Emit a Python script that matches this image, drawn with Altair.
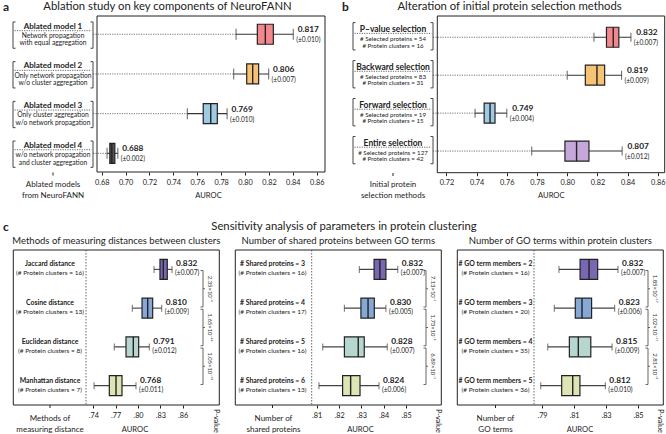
import altair as alt
import pandas as pd

FONT = "Lato"
W, H = 666, 434
INK = "#222222"

# ---------------- panel a : ablation study ----------------
a_names = ["Ablated model 1", "Ablated model 2", "Ablated model 3", "Ablated model 4"]
a_desc1 = ["Network propagation", "Only network propagation", "Only cluster aggregation", "w/o network propagation"]
a_desc2 = ["with equal aggregation", "w/o cluster aggregation", "w/o network propagation", "and cluster aggregation"]
a_low = [0.7925, 0.7905, 0.7517, 0.6845]
a_q1 = [0.8103, 0.8014, 0.7650, 0.6868]
a_med = [0.8170, 0.8064, 0.7713, 0.6885]
a_q3 = [0.8237, 0.8114, 0.7768, 0.6910]
a_high = [0.8404, 0.8198, 0.7850, 0.6935]
a_mean = ["0.817", "0.806", "0.769", "0.688"]
a_sd = ["(±0.010)", "(±0.007)", "(±0.010)", "(±0.002)"]
a_ticks = [0.68, 0.70, 0.72, 0.74, 0.76, 0.78, 0.80, 0.82, 0.84, 0.86]

# ---------------- panel b : initial protein selection ----------------
b_names = ["P–value selection", "Backward selection", "Forward selection", "Entire selection"]
b_desc1 = ["# Selected proteins = 54", "# Selected proteins = 83", "# Selected proteins = 19", "# Selected proteins = 127"]
b_desc2 = ["# Protein clusters = 16", "# Protein clusters = 31", "# Protein clusters = 15", "# Protein clusters = 42"]
b_low = [0.8177, 0.8000, 0.7390, 0.7765]
b_q1 = [0.8260, 0.8120, 0.7450, 0.7985]
b_med = [0.8305, 0.8197, 0.7489, 0.8062]
b_q3 = [0.8342, 0.8248, 0.7522, 0.8144]
b_high = [0.8422, 0.8360, 0.7600, 0.8364]
b_mean = ["0.832", "0.819", "0.749", "0.807"]
b_sd = ["(±0.007)", "(±0.009)", "(±0.004)", "(±0.012)"]
b_ticks = [0.72, 0.74, 0.76, 0.78, 0.80, 0.82, 0.84, 0.86]

# ---------------- panel c1 : distance measures ----------------
c1_names = ["Jaccard distance", "Cosine distance", "Euclidean distance", "Manhattan distance"]
c1_desc = ["(# Protein clusters = 16)", "(# Protein clusters = 13)", "(# Protein clusters = 8)", "(# Protein clusters = 7)"]
c1_low = [0.8215, 0.7924, 0.7682, 0.7410]
c1_q1 = [0.8295, 0.8054, 0.7839, 0.7615]
c1_med = [0.8340, 0.8130, 0.7937, 0.7705]
c1_q3 = [0.8393, 0.8197, 0.8009, 0.7785]
c1_high = [0.8457, 0.8318, 0.8152, 0.7973]
c1_mean = ["0.832", "0.810", "0.791", "0.768"]
c1_sd = ["(±0.007)", "(±0.009)", "(±0.012)", "(±0.011)"]
c1_p = ["2.35×10⁻⁴", "1.65×10⁻²⁶", "1.05×10⁻¹⁵"]
c1_ticks = [0.74, 0.77, 0.80, 0.83, 0.86]

# ---------------- panel c2 : shared proteins ----------------
c2_names = ["# Shared proteins = 3", "# Shared proteins = 4", "# Shared proteins = 5", "# Shared proteins = 6"]
c2_desc = ["(# Protein clusters = 16)", "(# Protein clusters = 17)", "(# Protein clusters = 16)", "(# Protein clusters = 13)"]
c2_low = [0.8291, 0.8224, 0.8127, 0.8110]
c2_q1 = [0.8357, 0.8298, 0.8224, 0.8216]
c2_med = [0.8383, 0.8330, 0.8286, 0.8252]
c2_q3 = [0.8410, 0.8358, 0.8313, 0.8294]
c2_high = [0.8463, 0.8410, 0.8416, 0.8379]
c2_mean = ["0.832", "0.830", "0.828", "0.824"]
c2_sd = ["(±0.007)", "(±0.005)", "(±0.007)", "(±0.006)"]
c2_p = ["7.13×10⁻¹", "1.73×10⁻²", "6.89×10⁻¹"]
c2_ticks = [0.81, 0.82, 0.83, 0.84, 0.85]

# ---------------- panel c3 : GO terms per cluster ----------------
c3_names = ["# GO term members = 2", "# GO term members = 3", "# GO term members = 4", "# GO term members = 5"]
c3_desc = ["(# Protein clusters = 16)", "(# Protein clusters = 20)", "(# Protein clusters = 35)", "(# Protein clusters = 36)"]
c3_low = [0.8006, 0.7977, 0.7936, 0.7892]
c3_q1 = [0.8138, 0.8108, 0.8071, 0.8023]
c3_med = [0.8194, 0.8150, 0.8127, 0.8092]
c3_q3 = [0.8248, 0.8210, 0.8205, 0.8137]
c3_high = [0.8375, 0.8354, 0.8338, 0.8296]
c3_mean = ["0.832", "0.823", "0.815", "0.812"]
c3_sd = ["(±0.007)", "(±0.006)", "(±0.009)", "(±0.010)"]
c3_p = ["1.85×10⁻¹⁷", "1.02×10⁻¹¹", "2.81×10⁻²"]
c3_ticks = [0.79, 0.81, 0.83, 0.85]

# ---------------- styles ----------------
a_colors = ["#F2888E", "#F8C275", "#9ECAE4", "#555555"]
b_colors = ["#F2888E", "#F8C275", "#9ECAE4", "#C6A7D9"]
c_colors = ["#7A67B2", "#86A8D6", "#B8D6D0", "#DFE4B5"]

# ---------------- layout geometry (pixels) ----------------
GA = dict(v0=0.68, p0=101.7, k=1194.4, fl=97.0, fr=325.0, ft=16.0, fb=172.0, y0=0.54, y1=4.47)
GB = dict(v0=0.72, p0=446.4, k=1510.0, fl=437.3, fr=664.7, ft=16.0, fb=172.7, y0=0.44, y1=4.57)
GC1 = dict(v0=0.74, p0=93.3, k=745.0, fl=13.3, fr=219.3, ft=250.0, fb=405.0, y0=0.5, y1=4.5)
GC2 = dict(v0=0.81, p0=316.7, k=2233.0, fl=235.3, fr=441.3, ft=250.0, fb=405.0, y0=0.5, y1=4.5)
GC3 = dict(v0=0.79, p0=542.0, k=1600.0, fl=457.3, fr=663.3, ft=250.0, fb=405.0, y0=0.5, y1=4.5)

ONE = pd.DataFrame({"k": [0]})


def inv(g, px):
    return g["v0"] + (px - g["p0"]) / g["k"]


def txt(s, x, y, size, weight="normal", align="center", angle=0, baseline="middle", style="normal"):
    return alt.Chart(ONE).mark_text(
        text=s, font=FONT, fontSize=size, fontWeight=weight, fontStyle=style,
        align=align, baseline=baseline, angle=angle, color=INK
    ).encode(x=alt.value(x), y=alt.value(y))


def prule(x1, x2, y1, y2, color=INK, width=1.0, dash=None):
    kw = dict(color=color, strokeWidth=width)
    if dash:
        kw["strokeDash"] = dash
    return alt.Chart(ONE).mark_rule(**kw).encode(
        x=alt.value(x1), x2=alt.value(x2), y=alt.value(y1), y2=alt.value(y2))


def build_df(names, d1, d2, low, q1, med, q3, high, mean, sd, colors):
    return pd.DataFrame(dict(row=[1, 2, 3, 4], name=names, d1=d1, d2=d2, low=low, q1=q1, med=med,
                             q3=q3, high=high, mean=mean, sd=sd, col=colors))


def panel(g, df, ticks, label_expr, boxh, cap, wcol, mean_cfg):
    d0, d1 = inv(g, g["fl"]), inv(g, g["fr"])
    xs = alt.Scale(domain=[d0, d1], range=[g["fl"], g["fr"]], nice=False, zero=False)
    ys = alt.Scale(domain=[g["y0"], g["y1"]], range=[g["ft"], g["fb"]], nice=False, zero=False)
    ppr = (g["fb"] - g["ft"]) / (g["y1"] - g["y0"])
    df = df.copy()
    df["yb0"] = df["row"] - boxh / 2 / ppr
    df["yb1"] = df["row"] + boxh / 2 / ppr

    def X(f):
        return alt.X(f, scale=xs, axis=None)

    def Y(f):
        return alt.Y(f, scale=ys, axis=None)

    frame_df = pd.DataFrame({"x0": [d0], "x1": [d1], "y0": [g["y0"]], "y1": [g["y1"]]})
    axis = alt.Axis(values=ticks, orient="bottom", offset=g["fb"] - H, domain=False, grid=False,
                    ticks=True, tickSize=3, tickColor=INK, tickWidth=1, labelFont=FONT,
                    labelFontSize=7.3, labelColor=INK, labelPadding=3, labelFlush=False,
                    labelOverlap=False, labelExpr=label_expr, title="")
    L = [
        alt.Chart(frame_df).mark_rect(fillOpacity=0, stroke=INK, strokeWidth=1).encode(
            x=alt.X("x0:Q", scale=xs, axis=axis), x2="x1:Q", y=Y("y0:Q"), y2="y1:Q"),
        alt.Chart(df).mark_rule(color=wcol, strokeWidth=1.1).encode(
            x=X("low:Q"), x2="high:Q", y=Y("row:Q")),
        alt.Chart(df).transform_fold(["low", "high"], as_=["k", "v"]).mark_tick(
            orient="vertical", size=cap, thickness=1.1, color=wcol).encode(x=X("v:Q"), y=Y("row:Q")),
        alt.Chart(df).mark_rect(stroke=INK, strokeWidth=1.2).encode(
            x=X("q1:Q"), x2="q3:Q", y=Y("yb0:Q"), y2="yb1:Q", fill=alt.Fill("col:N", scale=None)),
        alt.Chart(df).mark_rule(color=INK, strokeWidth=1.4).encode(
            x=X("med:Q"), y=Y("yb0:Q"), y2="yb1:Q"),
        alt.Chart(df).mark_text(font=FONT, fontWeight="bold", fontSize=8.3, color=INK,
                                align=mean_cfg["align"], dx=mean_cfg["dx1"], dy=mean_cfg["dy1"]).encode(
            x=X("high:Q"), y=Y("row:Q"), text="mean:N"),
        alt.Chart(df).mark_text(font=FONT, fontSize=6.6, color=INK,
                                align=mean_cfg["align"], dx=mean_cfg["dx2"], dy=mean_cfg["dy2"]).encode(
            x=X("high:Q"), y=Y("row:Q"), text="sd:N"),
    ]
    return L, X, Y, ppr, df


def ab_labels(g, df, X, Y, ppr, lx, bl, br, dys, tsize, dsize):
    d = df.copy()
    d["bt"] = d["row"] + dys["bt"] / ppr
    d["bb"] = d["row"] + dys["bb"] / ppr
    d["ul"] = d["row"] + dys["ul"] / ppr
    d["cs"] = inv(g, br)
    base = alt.Chart(d)
    dot = [1.2, 1.2]
    return [
        base.mark_rule(color="#666666", strokeWidth=0.9, strokeDash=dot).encode(
            x=X("cs:Q"), x2="low:Q", y=Y("row:Q")),
        base.mark_text(font=FONT, fontWeight="bold", fontSize=tsize, color=INK, dy=dys["t"]).encode(
            x=alt.value(lx), y=Y("row:Q"), text="name:N"),
        base.mark_text(font=FONT, fontSize=dsize, color=INK, dy=dys["l2"]).encode(
            x=alt.value(lx), y=Y("row:Q"), text="d1:N"),
        base.mark_text(font=FONT, fontSize=dsize, color=INK, dy=dys["l3"]).encode(
            x=alt.value(lx), y=Y("row:Q"), text="d2:N"),
        base.mark_rule(color="#555555", strokeWidth=0.9, strokeDash=dot).encode(
            x=alt.value(bl + 1.5), x2=alt.value(br - 1.5), y=Y("ul:Q")),
        base.mark_rule(color="#444444", strokeWidth=1).encode(x=alt.value(bl), y=Y("bt:Q"), y2="bb:Q"),
        base.mark_rule(color="#444444", strokeWidth=1).encode(x=alt.value(br), y=Y("bt:Q"), y2="bb:Q"),
        base.mark_rule(color="#444444", strokeWidth=1).encode(x=alt.value(bl), x2=alt.value(bl + 2.5), y=Y("bt:Q")),
        base.mark_rule(color="#444444", strokeWidth=1).encode(x=alt.value(bl), x2=alt.value(bl + 2.5), y=Y("bb:Q")),
        base.mark_rule(color="#444444", strokeWidth=1).encode(x=alt.value(br - 2.5), x2=alt.value(br), y=Y("bt:Q")),
        base.mark_rule(color="#444444", strokeWidth=1).encode(x=alt.value(br - 2.5), x2=alt.value(br), y=Y("bb:Q")),
    ]


def c_labels(g, df, Y, pvals, lx, sep, bx, ptx):
    base = alt.Chart(df)
    pdf = pd.DataFrame({"i": [1, 2, 3], "p": pvals})
    pdf["yt"] = pdf["i"] + 0.03
    pdf["yb"] = pdf["i"] + 0.97
    pdf["ym"] = pdf["i"] + 0.5
    pb = alt.Chart(pdf)
    col = "#555555"
    return [
        prule(sep, sep, g["ft"], g["fb"], color="#555555", width=0.9, dash=[1.5, 1.5]),
        base.mark_text(font=FONT, fontWeight="bold", fontSize=6.9, color=INK, dy=-5).encode(
            x=alt.value(lx), y=Y("row:Q"), text="name:N"),
        base.mark_text(font=FONT, fontSize=6.5, color=INK, dy=4).encode(
            x=alt.value(lx), y=Y("row:Q"), text="d1:N"),
        pb.mark_rule(color=col, strokeWidth=0.9).encode(x=alt.value(bx), y=Y("yt:Q"), y2="yb:Q"),
        pb.mark_rule(color=col, strokeWidth=0.9).encode(x=alt.value(bx - 2.5), x2=alt.value(bx), y=Y("yt:Q")),
        pb.mark_rule(color=col, strokeWidth=0.9).encode(x=alt.value(bx - 2.5), x2=alt.value(bx), y=Y("yb:Q")),
        pb.mark_rule(color=col, strokeWidth=0.9).encode(x=alt.value(bx), x2=alt.value(bx + 2), y=Y("ym:Q")),
        pb.mark_text(font=FONT, fontSize=5.9, color="#333333", angle=90, align="center",
                     baseline="middle").encode(x=alt.value(ptx), y=Y("ym:Q"), text="p:N"),
    ]


layers = []

# ---- panel a
dfa = build_df(a_names, a_desc1, a_desc2, a_low, a_q1, a_med, a_q3, a_high, a_mean, a_sd, a_colors)
La, Xa, Ya, ppra, dfa2 = panel(GA, dfa, a_ticks, "format(datum.value, '.2f')", 20, 11, "#333333",
                               dict(align="center", dx1=15, dx2=15, dy1=-4, dy2=6))
layers += ab_labels(GA, dfa2, Xa, Ya, ppra, 53, 13, 93,
                    dict(t=-7.6, ul=-3.6, l2=1.6, l3=9.2, bt=-12.3, bb=14), 8, 6.7) + La

# ---- panel b
dfb = build_df(b_names, b_desc1, b_desc2, b_low, b_q1, b_med, b_q3, b_high, b_mean, b_sd, b_colors)
Lb, Xb, Yb, pprb, dfb2 = panel(GB, dfb, b_ticks, "format(datum.value, '.2f')", 20, 9, "#333333",
                               dict(align="center", dx1=16, dx2=15, dy1=-4.5, dy2=5.5))
layers += ab_labels(GB, dfb2, Xb, Yb, pprb, 393, 353, 433,
                    dict(t=-8.3, ul=-3.9, l2=1.9, l3=8.3, bt=-14.6, bb=12.7), 8.5, 6.2) + Lb

# ---- panels c
cexpr = "replace(format(datum.value, '.2f'), '0.', '.')"
c_specs = [
    (GC1, c1_names, c1_desc, c1_low, c1_q1, c1_med, c1_q3, c1_high, c1_mean, c1_sd, c1_p, c1_ticks,
     50, 86, 203, 209.5),
    (GC2, c2_names, c2_desc, c2_low, c2_q1, c2_med, c2_q3, c2_high, c2_mean, c2_sd, c2_p, c2_ticks,
     272.5, 311.7, 426, 432.5),
    (GC3, c3_names, c3_desc, c3_low, c3_q1, c3_med, c3_q3, c3_high, c3_mean, c3_sd, c3_p, c3_ticks,
     495.5, 534, 648, 654.5),
]
for (g, nm, ds, lo, q1, md, q3, hi, mn, sd, pv, tk, lx, sep, bx, ptx) in c_specs:
    d = build_df(nm, ds, ds, lo, q1, md, q3, hi, mn, sd, c_colors)
    Lc, Xc, Yc, pprc, dc2 = panel(g, d, tk, cexpr, 20, 7, "#444444",
                                  dict(align="left", dx1=4, dx2=3, dy1=-5, dy2=4))
    layers += Lc + c_labels(g, dc2, Yc, pv, lx, sep, bx, ptx)
    # small tick under label column and rotated P-value label
    layers.append(prule(lx, lx, g["fb"], g["fb"] + 3))
    layers.append(txt("P-value", g["fr"] - 3, g["fb"] + 4, 7.3, align="left", angle=90))

# ---- texts: titles and axis captions
layers += [
    txt("a", 3, 7, 12, weight="bold", align="left"),
    txt("Ablation study on key components of NeuroFANN", 167.5, 7, 11.3),
    txt("b", 342, 7, 12, weight="bold", align="left"),
    txt("Alteration of initial protein selection methods", 509.5, 7, 11.3),
    txt("c", 3, 227, 12, weight="bold", align="left"),
    txt("Sensitivity analysis of parameters in protein clustering", 344, 227, 11.3),
    txt("Methods of measuring distances between clusters", 116.3, 240.5, 9.5),
    txt("Number of shared proteins between GO terms", 338.3, 240.5, 9.5),
    txt("Number of GO terms within protein clusters", 560.3, 240.5, 9.5),
    # panel a captions
    prule(53, 53, 172.5, 175.5),
    txt("Ablated models", 53, 184.5, 8),
    txt("from NeuroFANN", 53, 196, 8),
    txt("AUROC", 208.5, 196, 7.6),
    # panel b captions
    prule(393, 393, 173, 176),
    txt("Initial protein", 393, 184.5, 8),
    txt("selection methods", 393, 196, 8),
    txt("AUROC", 551.3, 196, 7.6),
    # panel c captions
    txt("Methods of", 50, 418.5, 8),
    txt("measuring distance", 50, 429.5, 8),
    txt("AUROC", 135, 429.5, 7.6),
    txt("Number of", 273.5, 418.5, 8),
    txt("shared proteins", 273.5, 429.5, 8),
    txt("AUROC", 360.5, 429.5, 7.6),
    txt("Number of", 495.5, 418.5, 8),
    txt("GO terms", 495.5, 429.5, 8),
    txt("AUROC", 580, 429.5, 7.6),
]

chart = (
    alt.layer(*layers)
    .resolve_scale(x="independent", y="independent")
    .properties(width=W, height=H, padding=0, autosize=alt.AutoSizeParams(type="none"))
    .configure_view(stroke=None)
    .configure_axis(grid=False)
)

chart.save("out.html", embed_options={"renderer": "svg", "actions": False})
